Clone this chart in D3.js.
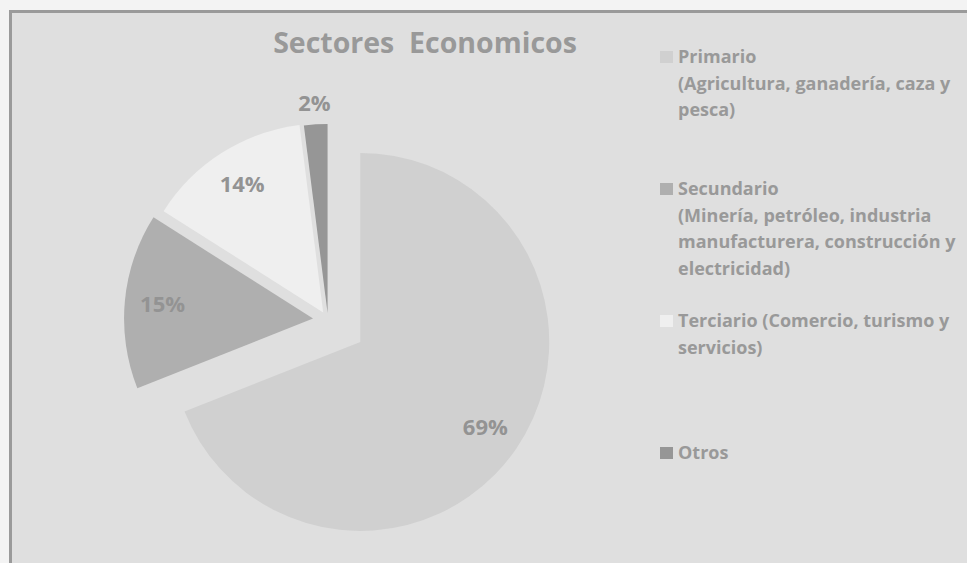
<!DOCTYPE html>
<html>
<head>
<meta charset="utf-8">
<script src="https://cdn.jsdelivr.net/npm/d3@7"></script>
<style>
  html, body { margin: 0; padding: 0; background: #f3f3f3; }
  svg { display: block; }
  text { font-family: "Open Sans", "Noto Sans", sans-serif; font-weight: bold; fill: #999; }
</style>
</head>
<body>
<svg width="967" height="563"></svg>
<script>
const svg = d3.select("svg");
const width = 967;
const height = 563;

// datos del gráfico
const sectores = ["Primario", "Secundario", "Terciario", "Otros"];
const valores = [69, 15, 14, 2];
const leyenda = [
  ["Primario", "(Agricultura, ganadería, caza y", "pesca)"],
  ["Secundario", "(Minería, petróleo, industria", "manufacturera, construcción y", "electricidad)"],
  ["Terciario (Comercio, turismo y", "servicios)"],
  ["Otros"]
];
const colores = ["#d0d0d0", "#afafaf", "#efefef", "#969696"];
const explode = [39, 15, 9, 7];   // separación de cada porción

// fondo y marco
svg.append("rect")
  .attr("x", 9).attr("y", 10)
  .attr("width", width).attr("height", height)
  .attr("fill", "#dfdfdf");
svg.append("path")
  .attr("d", `M10.5,${height} V11.5 H${width}`)
  .attr("fill", "none")
  .attr("stroke", "#9a9a9a")
  .attr("stroke-width", 3);

// título
svg.append("text")
  .attr("x", 425).attr("y", 43)
  .attr("dy", "0.35em")
  .attr("text-anchor", "middle")
  .style("font-size", "28.5px")
  .style("white-space", "pre")
  .text("Sectores  Economicos");

// pastel
const cx = 328, cy = 320, radius = 189;
const pie = d3.pie().sort(null).value(d => d)(valores);
const arc = d3.arc().innerRadius(0).outerRadius(radius);

const g = svg.append("g").attr("transform", `translate(${cx},${cy})`);

const slices = g.selectAll(".slice")
  .data(pie)
  .join("g")
  .attr("class", "slice")
  .attr("transform", (d, i) => {
    const a = (d.startAngle + d.endAngle) / 2;
    return `translate(${Math.sin(a) * explode[i]},${-Math.cos(a) * explode[i]})`;
  });

slices.append("path")
  .attr("d", arc)
  .attr("fill", (d, i) => colores[i]);

// etiquetas de porcentaje (las porciones pequeñas van afuera)
slices.append("text")
  .attr("transform", d => {
    const a = (d.startAngle + d.endAngle) / 2;
    const r = d.value < 5 ? radius * 1.11 : radius * 0.8;
    return `translate(${Math.sin(a) * r},${-Math.cos(a) * r})`;
  })
  .attr("dy", "0.35em")
  .attr("text-anchor", "middle")
  .style("font-size", "22px")
  .style("fill", "#939393")
  .text(d => d3.format(".0%")(d.value / d3.sum(valores)));

// leyenda
const lineH = 26.5;
const items = svg.selectAll(".legend")
  .data(leyenda)
  .join("g")
  .attr("class", "legend")
  .attr("transform", (d, i) => `translate(660,${57 + i * 132})`);

items.append("rect")
  .attr("x", 0).attr("y", -6)
  .attr("width", 13).attr("height", 12)
  .attr("fill", (d, i) => colores[i]);

items.append("text")
  .style("font-size", "18px")
  .selectAll("tspan")
  .data(d => d)
  .join("tspan")
  .attr("x", 18)
  .attr("y", (d, i) => i * lineH)
  .attr("dy", "0.35em")
  .text(d => d);
</script>
</body>
</html>
